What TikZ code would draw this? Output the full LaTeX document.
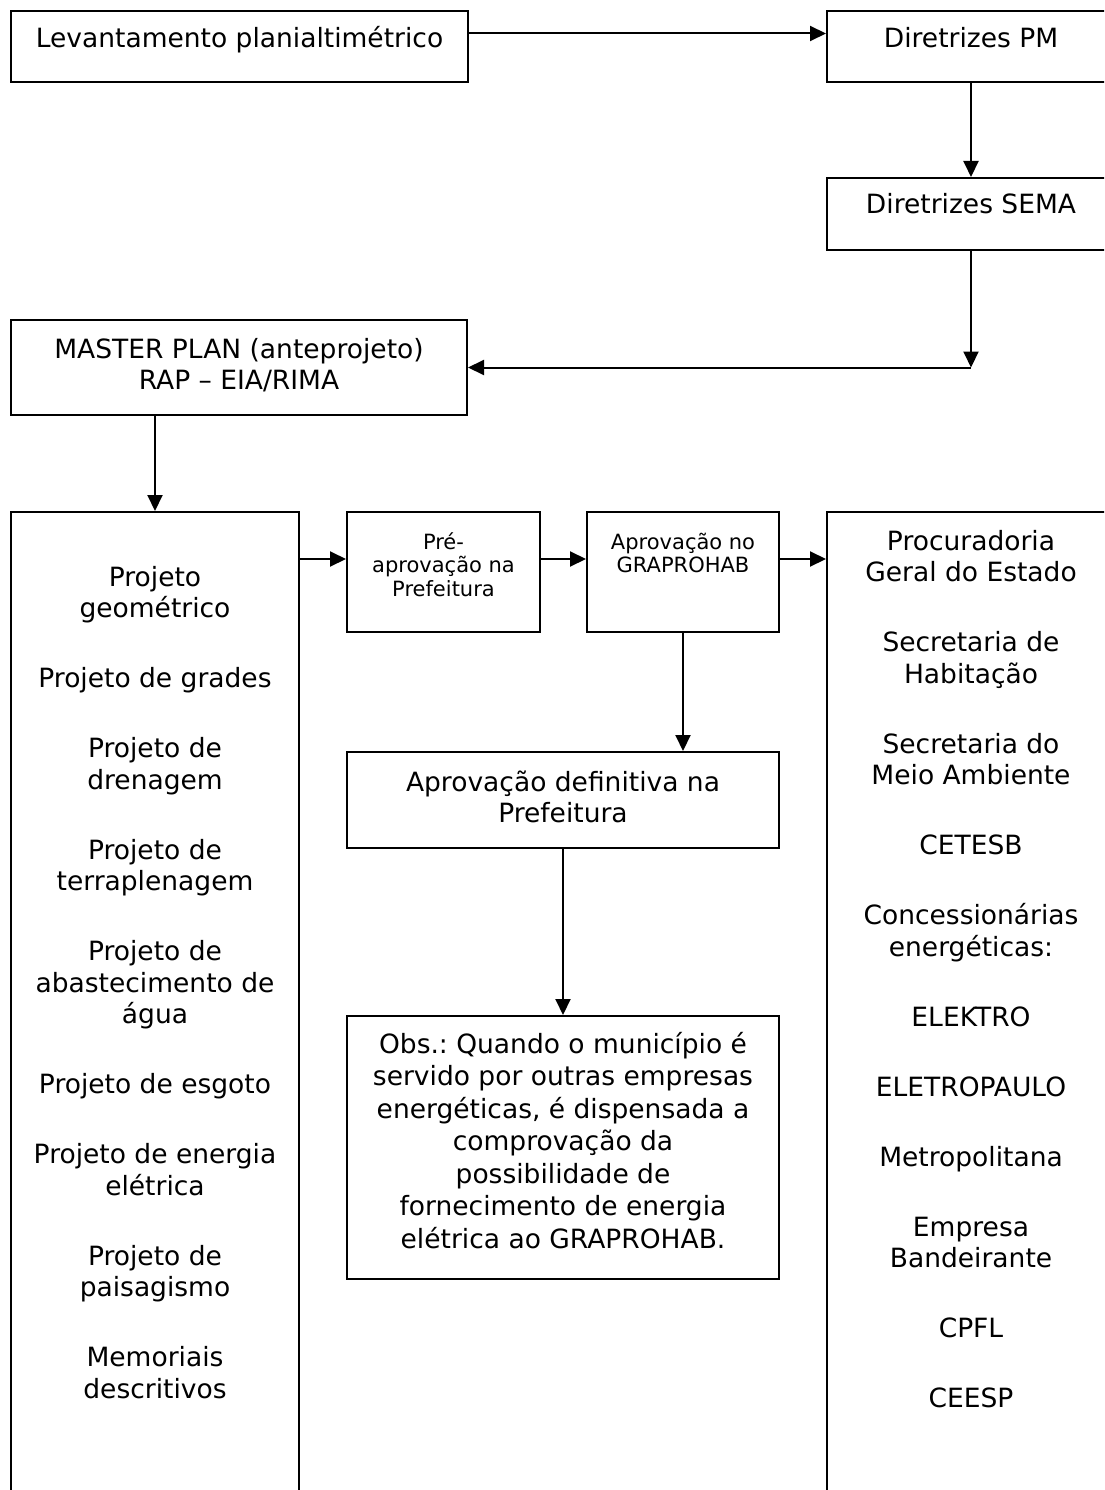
\documentclass[tikz,border=0pt]{standalone}
\usepackage{fontspec}
\setmainfont{DejaVu Sans}
\usetikzlibrary{arrows.meta}
\newcommand{\bigtxt}{\fontsize{26.5}{31.5}\selectfont}
\newcommand{\smalltxt}{\fontsize{21}{23.5}\selectfont}
\newcommand{\boxtxt}[4]{\parbox[t][#2pt][t]{#1pt}{\centering\frenchspacing\rule{0pt}{#3pt}#4}}
\tikzset{
    block/.style={rectangle, draw, line width=2pt, inner sep=0pt, anchor=north west, font=\bigtxt},
    smallblock/.style={block, font=\smalltxt},
    line/.style={draw, line width=2pt, -{Triangle[length=16pt, width=15pt]}}
}

\begin{document}
\begin{tikzpicture}[x=1pt, y=-1pt]
    \useasboundingbox (0,0) rectangle (1104,1490);
    \clip (0,0) rectangle (1104,1490);

    % Top chain
    \node [block] (lev) at (10,10) {\boxtxt{457}{71}{37}{Levantamento planialtimétrico}};
    \node [block] (pm) at (826,10) {\boxtxt{288}{71}{37}{Diretrizes PM}};
    \node [block] (sema) at (826,177) {\boxtxt{288}{72}{36}{Diretrizes SEMA}};
    \node [block] (master) at (10,319) {\boxtxt{456}{95}{38}{MASTER PLAN (anteprojeto)\\ RAP – EIA/RIMA}};
    \coordinate (bend) at (sema.south |- master.east);
    \draw [line] ([yshift=13pt]lev.east) -- ([yshift=13pt]pm.west);
    \draw [line] (pm) -- (sema);
    \draw [line] (sema) -- (bend);
    \draw [line] (bend) -- (master);

    % Projects and approvals
    \node [block] (projetos) at (10,511) {\boxtxt{288}{1000}{74}{Projeto\\ geométrico\\[38.5pt]
        Projeto de grades\\[38.5pt]
        Projeto de\\ drenagem\\[38.5pt]
        Projeto de\\ terraplenagem\\[38.5pt]
        Projeto de\\ abastecimento de\\ água\\[38.5pt]
        Projeto de esgoto\\[38.5pt]
        Projeto de energia\\ elétrica\\[38.5pt]
        Projeto de\\ paisagismo\\[38.5pt]
        Memoriais\\ descritivos}};
    \node [smallblock] (pre) at (346,511) {\boxtxt{193}{120}{37}{Pré-\\ aprovação na\\ Prefeitura}};
    \node [smallblock] (graprohab) at (586,511) {\boxtxt{192}{120}{37}{Aprovação no\\ GRAPROHAB}};
    \node [block] (orgaos) at (826,511) {\boxtxt{288}{1000}{38}{Procuradoria\\ Geral do Estado\\[38.5pt]
        Secretaria de\\ Habitação\\[38.5pt]
        Secretaria do\\ Meio Ambiente\\[38.5pt]
        CETESB\\[38.5pt]
        Concessionárias\\ energéticas:\\[38.5pt]
        ELEKTRO\\[38.5pt]
        ELETROPAULO\\[38.5pt]
        Metropolitana\\[38.5pt]
        Empresa\\ Bandeirante\\[38.5pt]
        CPFL\\[38.5pt]
        CEESP}};
    \node [block] (definitiva) at (346,751) {\boxtxt{432}{96}{39}{Aprovação definitiva na\\ Prefeitura}};
    \node [block, font=\fontsize{26.5}{32.5}\selectfont] (obs) at (346,1015) {\boxtxt{432}{263}{37}{Obs.: Quando o município é\\
        servido por outras empresas\\ energéticas, é dispensada a\\ comprovação da\\ possibilidade de\\
        fornecimento de energia\\ elétrica ao GRAPROHAB.}};
    \coordinate (row) at (0,559);
    \draw [line] (projetos.north |- master.south) -- (projetos.north);
    \draw [line] (projetos.east |- row) -- (pre.west |- row);
    \draw [line] (pre.east |- row) -- (graprohab.west |- row);
    \draw [line] (graprohab.east |- row) -- (orgaos.west |- row);
    \draw [line] (graprohab.south) -- (graprohab.south |- definitiva.north);
    \draw [line] (definitiva) -- (obs);

\end{tikzpicture}
\end{document}
